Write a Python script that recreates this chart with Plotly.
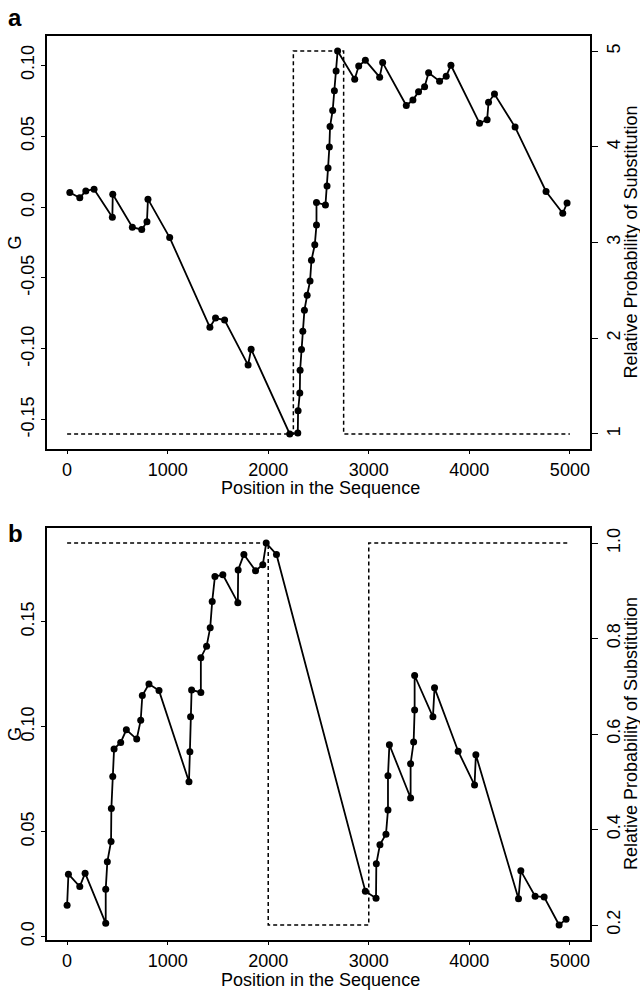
import plotly.graph_objects as go

# ---------------- data ----------------
pos_a = [27, 126, 186, 268, 450, 454, 649, 742, 794, 804,
         1020, 1420, 1476, 1566, 1800, 1830, 2214, 2294, 2297, 2314,
         2317, 2331, 2344, 2360, 2387, 2416, 2430, 2463, 2480, 2480,
         2569, 2585, 2595, 2608, 2615, 2641, 2658, 2675, 2690, 2860,
         2900, 2966, 3108, 3138, 3373, 3439, 3495, 3555, 3595, 3704,
         3770, 3817, 4101, 4177, 4191, 4250, 4455, 4763, 4929, 4972]
g_a = [0.0103, 0.0065, 0.0114, 0.0126, -0.0072, 0.0091, -0.0142, -0.0159, -0.0103, 0.0056,
       -0.0215, -0.0848, -0.0783, -0.0797, -0.1114, -0.1002, -0.1600, -0.1594, -0.1436, -0.1312,
       -0.1151, -0.1005, -0.0876, -0.0727, -0.0622, -0.0522, -0.0375, -0.0266, -0.0126, 0.0033,
       0.0014, 0.0149, 0.0275, 0.0424, 0.0569, 0.0681, 0.0820, 0.0960, 0.1100, 0.0902,
       0.0995, 0.1035, 0.0916, 0.1019, 0.0716, 0.0755, 0.0814, 0.0849, 0.0947, 0.0888,
       0.0923, 0.1000, 0.0592, 0.0615, 0.0739, 0.0797, 0.0564, 0.0110, -0.0044, 0.0028]

prob_pos_a = [0, 2250, 2250, 2750, 2750, 5000]
prob_a = [1, 1, 5, 5, 1, 1]

pos_b = [0, 13, 126, 179, 384, 384, 400, 437, 440, 454,
         467, 533, 589, 692, 732, 748, 814, 914, 1212, 1221,
         1228, 1238, 1330, 1330, 1387, 1423, 1443, 1470, 1549, 1698,
         1701, 1758, 1874, 1946, 1980, 2082, 2966, 3072, 3075, 3111,
         3171, 3191, 3191, 3205, 3416, 3416, 3446, 3456, 3456, 3638,
         3654, 3889, 4052, 4065, 4489, 4512, 4654, 4744, 4893, 4962]
g_b = [0.0149, 0.0297, 0.0238, 0.0302, 0.0063, 0.0225, 0.0356, 0.0453, 0.0610, 0.0763,
       0.0894, 0.0925, 0.0985, 0.0941, 0.1031, 0.1149, 0.1203, 0.1172, 0.0738, 0.0880,
       0.1047, 0.1175, 0.1163, 0.1329, 0.1383, 0.1472, 0.1597, 0.1716, 0.1724, 0.1591,
       0.1747, 0.1821, 0.1743, 0.1772, 0.1875, 0.1821, 0.0216, 0.0183, 0.0347, 0.0438,
       0.0488, 0.0603, 0.0766, 0.0914, 0.0660, 0.0824, 0.0927, 0.1080, 0.1244, 0.1047,
       0.1185, 0.0883, 0.0722, 0.0866, 0.0180, 0.0313, 0.0192, 0.0188, 0.0055, 0.0083]

prob_pos_b = [0, 2000, 2000, 3000, 3000, 5000]
prob_b = [1.0, 1.0, 0.2, 0.2, 1.0, 1.0]

x_ticks = [0, 1000, 2000, 3000, 4000, 5000]
x_ticktext = ["0", "1000", "2000", "3000", "4000", "5000"]
ga_ticks = [-0.15, -0.10, -0.05, 0.0, 0.05, 0.10]
ga_ticktext = ["-0.15", "-0.10", "-0.05", "0.0", "0.05", "0.10"]
pa_ticks = [1, 2, 3, 4, 5]
pa_ticktext = ["1", "2", "3", "4", "5"]
gb_ticks = [0.0, 0.05, 0.10, 0.15]
gb_ticktext = ["0.0", "0.05", "0.10", "0.15"]
pb_ticks = [0.2, 0.4, 0.6, 0.8, 1.0]
pb_ticktext = ["0.2", "0.4", "0.6", "0.8", "1.0"]

# ---------------- helpers ----------------
W, H = 640, 993
FONT = "Liberation Sans, Arial, Helvetica, sans-serif"
FS = 18


def expand(lo, hi, f=0.04):
    d = (hi - lo) * f
    return [lo - d, hi + d]


def py(px):
    return 1 - px / H


def px_x(px):
    return px / W


fig = go.Figure()

line_style = dict(color="black", width=1.8)
marker_style = dict(color="black", size=7)
dash_style = dict(color="black", width=1.5, dash="4px,3px")

fig.add_trace(go.Scatter(x=prob_pos_a, y=prob_a, mode="lines", line=dash_style,
                         xaxis="x", yaxis="y2", showlegend=False))
fig.add_trace(go.Scatter(x=pos_a, y=g_a, mode="lines+markers", line=line_style,
                         marker=marker_style, xaxis="x", yaxis="y", showlegend=False))
fig.add_trace(go.Scatter(x=prob_pos_b, y=prob_b, mode="lines", line=dash_style,
                         xaxis="x2", yaxis="y4", showlegend=False))
fig.add_trace(go.Scatter(x=pos_b, y=g_b, mode="lines+markers", line=line_style,
                         marker=marker_style, xaxis="x2", yaxis="y3", showlegend=False))

xdom = [px_x(47), px_x(590)]
dom_a = [py(452), py(36)]
dom_b = [py(946), py(531)]

tick_font = dict(family=FONT, size=FS, color="black")
common_x = dict(range=expand(0, 5000), tickvals=x_ticks, ticktext=x_ticktext,
                showline=True, linecolor="black", linewidth=2, mirror=True,
                ticks="outside", ticklen=3, tickwidth=1.2, tickcolor="black",
                showgrid=False, zeroline=False, tickfont=tick_font, domain=xdom)
common_yl = dict(showline=True, linecolor="black", linewidth=2, mirror=True,
                 ticks="outside", ticklen=4, tickwidth=1.2, tickcolor="black",
                 showgrid=False, zeroline=False, tickfont=tick_font, tickangle=-90,
                 side="left")
common_yr = dict(showline=True, linecolor="black", linewidth=2,
                 ticks="outside", ticklen=6, tickwidth=1.2, tickcolor="black",
                 showgrid=False, zeroline=False, tickfont=tick_font, tickangle=-90,
                 side="right")

fig.update_layout(
    width=W, height=H, autosize=False,
    margin=dict(l=0, r=0, t=0, b=0),
    paper_bgcolor="white", plot_bgcolor="white",
    font=dict(family=FONT, size=FS, color="black"),
    xaxis=dict(**common_x, anchor="y"),
    yaxis=dict(**common_yl, domain=dom_a, anchor="x",
               range=expand(min(g_a), max(g_a)), tickvals=ga_ticks, ticktext=ga_ticktext),
    yaxis2=dict(**common_yr, overlaying="y", anchor="x",
                range=expand(min(prob_a), max(prob_a)), tickvals=pa_ticks, ticktext=pa_ticktext),
    xaxis2=dict(**common_x, anchor="y3"),
    yaxis3=dict(**common_yl, domain=dom_b, anchor="x2",
                range=expand(min(g_b), max(g_b)), tickvals=gb_ticks, ticktext=gb_ticktext),
    yaxis4=dict(**common_yr, overlaying="y3", anchor="x2",
                range=expand(min(prob_b), max(prob_b)), tickvals=pb_ticks, ticktext=pb_ticktext),
)

ann = []
# panel labels
ann.append(dict(text="<b>a</b>", x=px_x(6), y=py(18), xref="paper", yref="paper",
                xanchor="left", yanchor="middle", showarrow=False,
                font=dict(family=FONT, size=24, color="black")))
ann.append(dict(text="<b>b</b>", x=px_x(6), y=py(537), xref="paper", yref="paper",
                xanchor="left", yanchor="middle", showarrow=False,
                font=dict(family=FONT, size=24, color="black")))
# axis titles
for ymid, ytop in [((36 + 452) / 2, 479), ((531 + 946) / 2, 974)]:
    ann.append(dict(text="Position in the Sequence", x=px_x(320), y=py(ytop),
                    xref="paper", yref="paper", xanchor="center", yanchor="top",
                    showarrow=False, font=dict(family=FONT, size=FS, color="black")))
    ann.append(dict(text="G", x=px_x(15), y=py(ymid), xref="paper", yref="paper",
                    xanchor="center", yanchor="middle", textangle=-90, showarrow=False,
                    font=dict(family=FONT, size=FS, color="black")))
    ann.append(dict(text="Relative Probability of Substitution", x=px_x(631), y=py(ymid),
                    xref="paper", yref="paper", xanchor="center", yanchor="middle",
                    textangle=-90, showarrow=False,
                    font=dict(family=FONT, size=FS, color="black")))
fig.update_layout(annotations=ann)

fig.write_html("out.html")
